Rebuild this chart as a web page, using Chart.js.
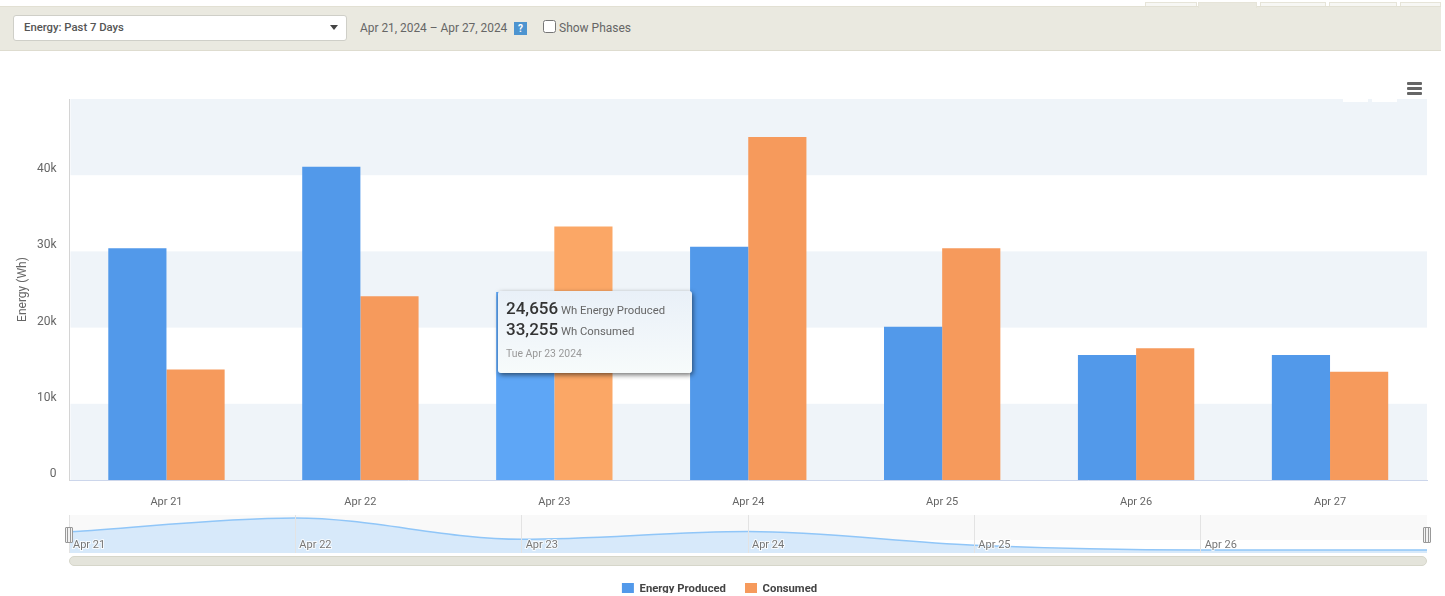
<!DOCTYPE html>
<html>
<head>
<meta charset="utf-8">
<title>Energy: Past 7 Days</title>
<script src="https://cdn.jsdelivr.net/npm/chart.js@4"></script>
<style>
    html, body { margin: 0; padding: 0; background: #fff; overflow: hidden; }
    body { width: 1445px; height: 596px; position: relative; font-family: Roboto, sans-serif; color: #666; }
    .toolbar { position: absolute; left: 0; top: 6px; width: 1441px; height: 43px; background: #eae9e0; border-top: 1px solid #e2e0d3; border-bottom: 1px solid #dedccf; }
    .tab { position: absolute; top: 2px; height: 4px; background: #f7f7f4; border: 1px solid #e6e4d8; border-bottom: 0; box-sizing: border-box; }
    .select { position: absolute; left: 13px; top: 15px; width: 334px; height: 26px; box-sizing: border-box; background: #fff; border: 1px solid #cfcfc8; border-radius: 3px; font-size: 11.3px; font-weight: 500; line-height: 23px; padding-left: 10px; color: #555; }
    .select:after { content: ""; position: absolute; right: 8px; top: 9px; border: 4px solid transparent; border-top: 5px solid #444; }
    .dates { position: absolute; left: 360px; top: 21px; font-size: 11.9px; line-height: 15px; }
    .help { position: absolute; left: 514px; top: 22px; width: 13px; height: 13px; background: #4d94d0; color: #fff; font-size: 10px; font-weight: 700; line-height: 13px; text-align: center; }
    .phases { position: absolute; left: 543px; top: 20px; font-size: 12px; line-height: 15px; }
    .phases input { position: absolute; left: 0; top: 0; margin: 0; width: 13px; height: 13px; }
    .phases span { position: absolute; left: 16px; top: 1px; white-space: nowrap; }
    .menu { position: absolute; left: 1407px; top: 82px; width: 15px; }
    .menu i { display: block; height: 3px; margin-bottom: 2px; background: #666; border-radius: 1px; }
    .notch { position: absolute; top: 99px; height: 3px; background: #fff; z-index: 2; }
    .chart-wrap { position: absolute; left: 0; top: 50px; width: 1445px; height: 543px; overflow: hidden; }
    .chart-wrap canvas { position: absolute; left: 0; top: 0; }
    .nav-wrap { position: absolute; left: 69px; top: 515px; width: 1358px; height: 38px; }
    .handle { position: absolute; top: 527px; width: 6px; height: 14px; background: linear-gradient(90deg, #f2f2f2 1px, #999 1px, #999 2px, #f2f2f2 2px, #f2f2f2 4px, #999 4px, #999 5px, #f2f2f2 5px); border: 1px solid #999; border-radius: 1px; box-sizing: content-box; }
    .scrollbar { position: absolute; left: 69px; top: 556px; width: 1358px; height: 10px; box-sizing: border-box; background: #e4e4db; border: 1px solid #d6d6ca; border-radius: 5px; }
    .tip { position: absolute; left: 498px; top: 291px; width: 194px; height: 82px; box-sizing: border-box; padding: 7px 8px; background: linear-gradient(#e9f0f8, #f7fbfb); border-radius: 3px; box-shadow: 1px 2px 5px rgba(0,0,0,.55); z-index: 3; white-space: nowrap; }
    .tip div { height: 21px; line-height: 21px; font-size: 11.3px; color: #666; }
    .tip b { font-size: 17px; font-weight: 500; color: #333; }
    .tip .when { margin-top: 6px; font-size: 10.4px; line-height: 16px; height: 16px; color: #999; }
</style>
</head>
<body>
    <div class="tab" style="left:1145px;width:52px"></div>
    <div class="tab" style="left:1260px;width:66px"></div>
    <div class="tab" style="left:1329px;width:68px"></div>
    <div class="tab" style="left:1400px;width:41px"></div>
    <div class="toolbar"></div>
    <div class="tab" style="left:1198px;width:59px;height:6px;background:#eae9e0"></div>
    <div class="select">Energy: Past 7 Days</div>
    <div class="dates">Apr 21, 2024 – Apr 27, 2024</div>
    <div class="help">?</div>
    <label class="phases"><input type="checkbox"><span>Show Phases</span></label>

    <div class="chart-wrap"><canvas id="energyChart" width="1439" height="555"></canvas></div>
    <div class="menu"><i></i><i></i><i></i></div>
    <div class="notch" style="left:1343px;width:25px"></div>
    <div class="notch" style="left:1372px;width:25px"></div>

    <div class="nav-wrap"><canvas id="navChart" width="1358" height="38"></canvas></div>
    <div class="handle" style="left:65px"></div>
    <div class="handle" style="left:1423px"></div>
    <div class="scrollbar"></div>

    <div class="tip">
        <div><b id="tipProduced"></b> Wh Energy Produced</div>
        <div><b id="tipConsumed"></b> Wh Consumed</div>
        <div class="when">Tue Apr 23 2024</div>
    </div>

<script>
    const categories = ["Apr 21", "Apr 22", "Apr 23", "Apr 24", "Apr 25", "Apr 26", "Apr 27"];
    const produced = [30400, 41100, 24656, 30600, 20100, 16400, 16400];
    const consumed = [14500, 24100, 33255, 45000, 30400, 17300, 14200];
    const yTicks = [0, 10000, 20000, 30000, 40000];
    const hoverIndex = 2; // Apr 23 is the bar under the tooltip

    Chart.defaults.font.family = "Roboto, sans-serif";
    Chart.defaults.font.size = 12;
    Chart.defaults.color = "#666";
    Chart.defaults.animation = false;

    // Alternating bands behind the bars
    const bandsPlugin = {
        id: "bands",
        beforeDatasetsDraw(chart) {
            const { ctx, chartArea, scales } = chart;
            ctx.save();
            ctx.fillStyle = "#eff4f9";
            for (let v = 0; v < scales.y.max; v += 20000) {
                const top = scales.y.getPixelForValue(v + 10000);
                const bottom = scales.y.getPixelForValue(v);
                ctx.fillRect(chartArea.left + 1, top, chartArea.width - 1, bottom - top);
            }
            ctx.restore();
        }
    };

    const barColor = (base, light) => (c) => c.dataIndex === hoverIndex ? light : base;

    new Chart(document.getElementById("energyChart"), {
        type: "bar",
        plugins: [bandsPlugin],
        data: {
            labels: categories,
            datasets: [
                {
                    label: "Energy Produced",
                    data: produced,
                    backgroundColor: barColor("#5299ea", "#5ea6f6")
                },
                {
                    label: "Consumed",
                    data: consumed,
                    backgroundColor: barColor("#f69a5c", "#fba766")
                }
            ]
        },
        options: {
            responsive: false,
            events: [],
            layout: { padding: { top: 49, left: 12, right: 12 } },
            datasets: { bar: { categoryPercentage: 0.6, barPercentage: 1 } },
            scales: {
                x: {
                    grid: { display: false },
                    border: { color: "#ccd6eb" },
                    ticks: { padding: 8, color: "#666", maxRotation: 0, font: { size: 11 } },
                    afterFit(axis) { axis.height = 84; }
                },
                y: {
                    min: 0,
                    max: 50000,
                    grid: { display: false },
                    border: { color: "#d4d4d4" },
                    title: { display: true, text: "Energy (Wh)", color: "#666", padding: { top: 4, bottom: 0 } },
                    afterBuildTicks(axis) {
                        axis.ticks = yTicks.concat([50000]).map((value) => ({ value }));
                    },
                    ticks: {
                        labelOffset: -6,
                        padding: 5,
                        callback: (v) => yTicks.includes(v) ? (v === 0 ? "0" : v / 1000 + "k") : ""
                    },
                    afterFit(axis) { axis.width = 57.5; }
                }
            },
            plugins: {
                tooltip: { enabled: false },
                legend: {
                    position: "bottom",
                    labels: {
                        boxWidth: 12,
                        boxHeight: 12,
                        padding: 19,
                        color: "#444",
                        font: { size: 11.3, weight: "700" }
                    }
                }
            }
        }
    });

    document.getElementById("tipProduced").textContent = produced[hoverIndex].toLocaleString("en-US");
    document.getElementById("tipConsumed").textContent = consumed[hoverIndex].toLocaleString("en-US");

    // Navigator strip: pale top, white bottom, labels sitting inside next to each grid line
    const navPlugin = {
        id: "navBack",
        beforeDraw(chart) {
            const { ctx, chartArea: a } = chart;
            ctx.save();
            ctx.fillStyle = "#f9f9f9";
            ctx.fillRect(a.left, a.top, a.width, 25);
            ctx.restore();
        },
        afterDraw(chart) {
            const { ctx, chartArea: a, scales } = chart;
            ctx.save();
            ctx.font = "11px Roboto, sans-serif";
            ctx.textBaseline = "middle";
            ctx.lineWidth = 2;
            ctx.strokeStyle = "rgba(255,255,255,0.8)";
            ctx.fillStyle = "#777";
            categories.slice(0, -1).forEach((label, i) => {
                const x = scales.x.getPixelForValue(i) + 4;
                ctx.strokeText(label, x, a.bottom - 8);
                ctx.fillText(label, x, a.bottom - 8);
            });
            ctx.restore();
        }
    };

    new Chart(document.getElementById("navChart"), {
        type: "line",
        plugins: [navPlugin],
        data: {
            labels: categories,
            datasets: [{
                data: produced,
                borderColor: "#90c6f8",
                borderWidth: 1.5,
                backgroundColor: "#d7e9fa",
                fill: "start",
                pointRadius: 0,
                cubicInterpolationMode: "monotone"
            }]
        },
        options: {
            responsive: false,
            events: [],
            layout: { padding: 0 },
            scales: {
                x: {
                    offset: false,
                    grid: { color: "#e3e3e3", drawTicks: false, z: 1 },
                    border: { display: false },
                    ticks: { display: false, autoSkip: false }
                },
                y: {
                    display: false,
                    min: 14100,
                    max: 43400
                }
            },
            plugins: { legend: { display: false }, tooltip: { enabled: false } }
        }
    });
</script>
</body>
</html>
